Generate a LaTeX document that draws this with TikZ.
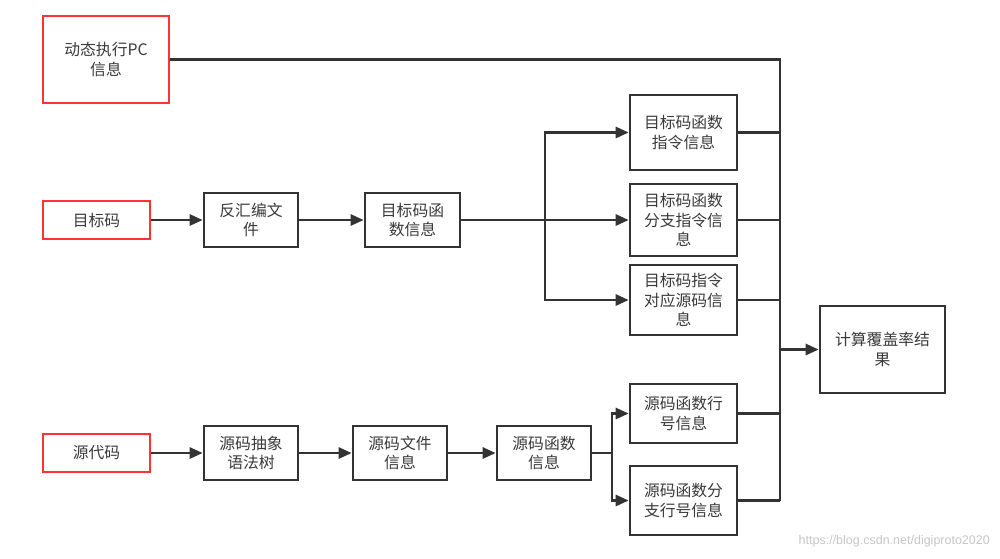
\documentclass[tikz,border=0pt]{standalone}
\usepackage{fontspec}
\newfontfamily\cjk{Noto Sans CJK SC}
\usetikzlibrary{arrows.meta}
\definecolor{ink}{HTML}{333333}
\definecolor{txt}{HTML}{3A3A3A}
\definecolor{redb}{HTML}{FF3333}
\begin{document}
\begin{tikzpicture}[x=1pt,y=-1pt,
  box/.style={draw=ink,line width=2.6pt,fill=white,inner sep=0pt,align=center,
    font=\cjk\fontsize{15.8}{19.5}\selectfont,text=txt},
  redbox/.style={box,draw=redb,line width=2.8pt},
  conn/.style={draw=ink,line width=2.6pt},
  arr/.style={conn,-{Triangle[length=13pt,width=11pt]}}]
\fill[white] (0,0) rectangle (1000,558);
\useasboundingbox (0,0) rectangle (1000,558);
% left inputs
\node[redbox,minimum width=126pt,minimum height=87pt] (pc) at (106,59.5) {动态执行PC\\信息};
\node[redbox,minimum width=107pt,minimum height=38pt] (mb) at (96.5,220) {目标码};
\node[redbox,minimum width=107pt,minimum height=38pt] (ydm) at (96.5,453) {源代码};
% target chain
\node[box,minimum width=94pt,minimum height=54pt] (fhb) at (251,220) {反汇编文\\件};
\node[box,minimum width=95pt,minimum height=54pt] (mbhs) at (412.5,220) {目标码函\\数信息};
\node[box,minimum width=107pt,minimum height=75pt] (zl) at (683.5,132.5) {目标码函数\\指令信息};
\node[box,minimum width=107pt,minimum height=72pt] (fz) at (683.5,220) {目标码函数\\分支指令信\\息};
\node[box,minimum width=107pt,minimum height=70pt] (dy) at (683.5,300) {目标码指令\\对应源码信\\息};
% source chain
\node[box,minimum width=94pt,minimum height=54pt] (ast) at (251,453) {源码抽象\\语法树};
\node[box,minimum width=94pt,minimum height=54pt] (wj) at (400,453) {源码文件\\信息};
\node[box,minimum width=94pt,minimum height=54pt] (hs) at (544,453) {源码函数\\信息};
\node[box,minimum width=107pt,minimum height=59pt] (hh) at (683.5,413.5) {源码函数行\\号信息};
\node[box,minimum width=107pt,minimum height=69pt] (fzh) at (683.5,500.5) {源码函数分\\支行号信息};
% result
\node[box,minimum width=125pt,minimum height=87pt] (jg) at (882.5,349.5) {计算覆盖率结\\果};
% connectors
\draw[arr] (mb) -- (fhb);
\draw[arr] (fhb) -- (mbhs);
\coordinate (b1) at (545,220);
\draw[conn] (mbhs.east) -- (b1);
\draw[arr] (b1) |- (zl.west);
\draw[arr] (b1) -- (fz.west);
\draw[arr] (b1) |- (dy.west);
\draw[arr] (ydm) -- (ast);
\draw[arr] (ast) -- (wj);
\draw[arr] (wj) -- (hs);
\coordinate (b2) at (612,453);
\draw[conn] (hs.east) -- (b2);
\draw[arr] (b2) |- (hh.west);
\draw[arr] (b2) |- (fzh.west);
\coordinate (bt) at (780,59.5);
\coordinate (bb) at (780,500.5);
\draw[conn,line join=miter] (pc.east) -- (bt) -- (bb);
\draw[conn] (zl.east) -- (zl.east -| bt);
\draw[conn] (fz.east) -- (fz.east -| bt);
\draw[conn] (dy.east) -- (dy.east -| bt);
\draw[conn] (hh.east) -- (hh.east -| bt);
\draw[conn] (fzh.east) -- (bb);
\draw[arr] (jg.west -| bt) -- (jg.west);
% watermark
\node[font=\fontspec{Liberation Sans}\fontsize{12.5}{14}\selectfont,text=black!22,anchor=east,inner sep=0pt] (wm) at (990,541) {https://blog.csdn.net/digiproto2020};
\end{tikzpicture}
\end{document}
